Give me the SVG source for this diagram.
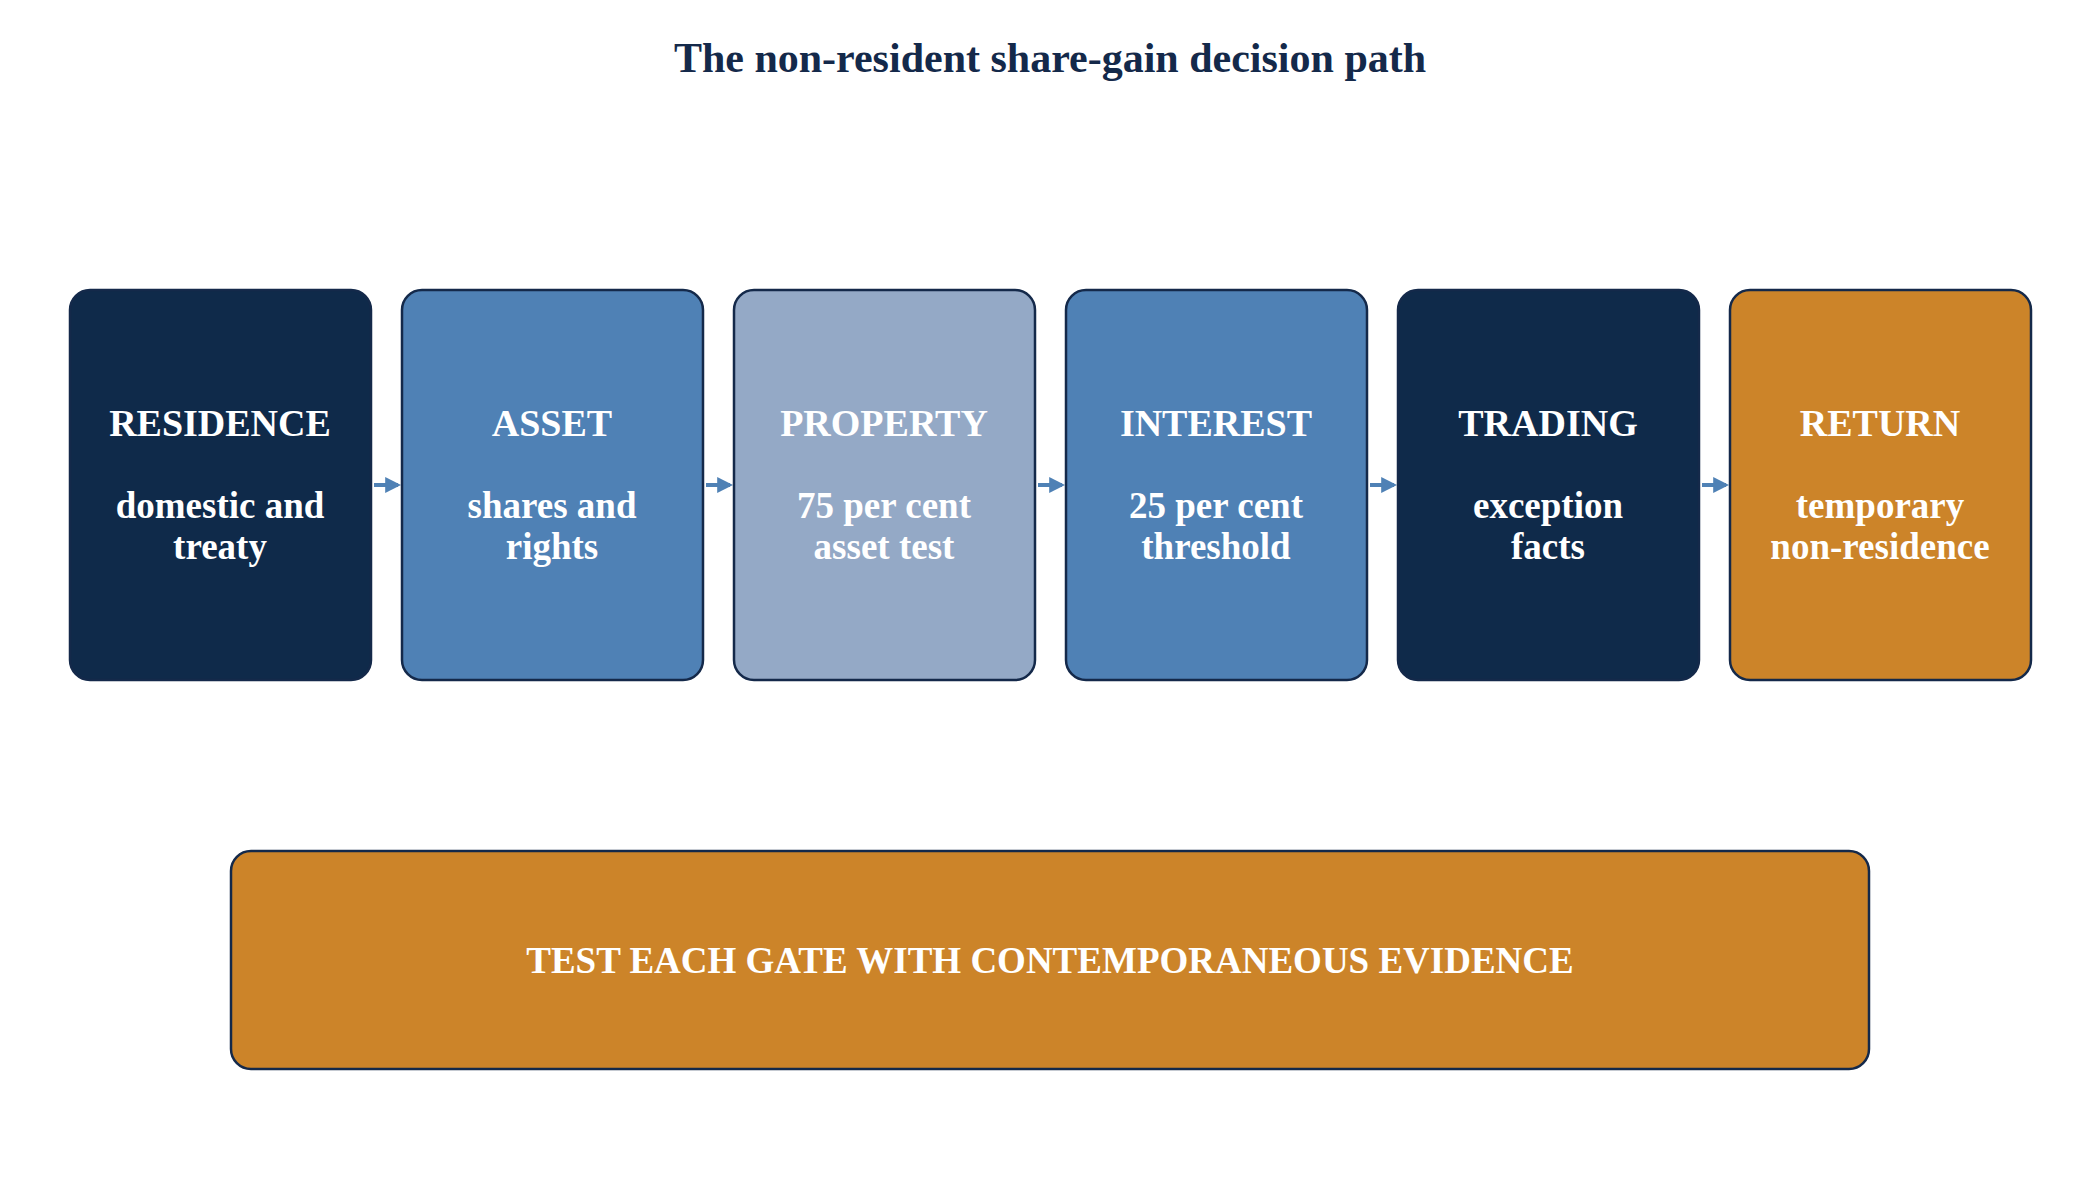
<svg xmlns="http://www.w3.org/2000/svg" width="2100" height="1180" viewBox="0 0 2100 1180">
<style>
.n{stroke:#14294a;stroke-width:2.5}
.t{font-family:"Liberation Serif",serif;font-weight:bold;fill:#fff;text-anchor:middle}
.h{font-size:38px}
.s{font-size:37px}
.c{stroke:#4f81b5;stroke-width:4;fill:none;marker-end:url(#a)}
</style>
<defs><marker id="a" markerWidth="4" markerHeight="4" refX="3.2" refY="2" orient="auto"><path d="M0,0L4,2L0,4z" fill="#4f81b5"/></marker></defs>
<rect width="2100" height="1180" fill="#fff"/>
<text x="1050" y="72" font-family="Liberation Serif,serif" font-weight="bold" font-size="42" fill="#14294a" text-anchor="middle">The non-resident share-gain decision path</text>
<g id="connectors">
<path class="c" d="M374,485H398"/><path class="c" d="M706,485H730"/><path class="c" d="M1038,485H1062"/><path class="c" d="M1370,485H1394"/><path class="c" d="M1702,485H1726"/>
</g>
<g id="residence"><rect class="n" x="70" y="290" width="301" height="390" rx="20" fill="#0f2a4a"/><text class="t h" x="220" y="436">RESIDENCE</text><text class="t s" x="220" y="518">domestic and</text><text class="t s" x="220" y="559">treaty</text></g>
<g id="asset"><rect class="n" x="402" y="290" width="301" height="390" rx="20" fill="#4f81b5"/><text class="t h" x="552" y="436">ASSET</text><text class="t s" x="552" y="518">shares and</text><text class="t s" x="552" y="559">rights</text></g>
<g id="property"><rect class="n" x="734" y="290" width="301" height="390" rx="20" fill="#94a9c6"/><text class="t h" x="884" y="436">PROPERTY</text><text class="t s" x="884" y="518">75 per cent</text><text class="t s" x="884" y="559">asset test</text></g>
<g id="interest"><rect class="n" x="1066" y="290" width="301" height="390" rx="20" fill="#4f81b5"/><text class="t h" x="1216" y="436">INTEREST</text><text class="t s" x="1216" y="518">25 per cent</text><text class="t s" x="1216" y="559">threshold</text></g>
<g id="trading"><rect class="n" x="1398" y="290" width="301" height="390" rx="20" fill="#0f2a4a"/><text class="t h" x="1548" y="436">TRADING</text><text class="t s" x="1548" y="518">exception</text><text class="t s" x="1548" y="559">facts</text></g>
<g id="return"><rect class="n" x="1730" y="290" width="301" height="390" rx="20" fill="#cc8429"/><text class="t h" x="1880" y="436">RETURN</text><text class="t s" x="1880" y="518">temporary</text><text class="t s" x="1880" y="559">non-residence</text></g>
<g id="evidence"><rect class="n" x="231" y="851" width="1638" height="218" rx="20" fill="#cc8429"/><text class="t s" x="1050" y="973">TEST EACH GATE WITH CONTEMPORANEOUS EVIDENCE</text></g>
</svg>
